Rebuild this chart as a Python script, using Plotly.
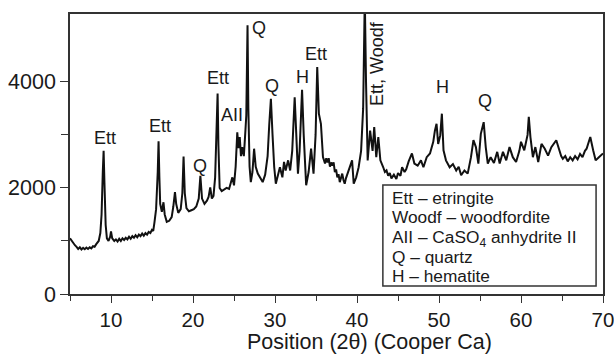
import plotly.graph_objects as go

# ---- data (2theta in degrees, intensity in counts) ----
two_theta = [
    5.0, 5.2, 5.4, 5.6, 5.8, 6.0, 6.2, 6.4, 6.6, 6.8, 7.0, 7.2, 7.4, 7.6, 7.8, 8.0, 8.2, 8.5, 8.7, 8.85,
    9.0, 9.1, 9.2, 9.35, 9.5, 9.7, 9.9, 10.0, 10.15,
    10.4, 10.6, 10.8, 11.0, 11.2, 11.4, 11.6, 11.8, 12.0, 12.2, 12.4, 12.6, 12.8, 13.0, 13.2, 13.4, 13.6,
    13.8, 14.0, 14.2, 14.4, 14.6, 14.8, 15.0, 15.15, 15.3,
    15.5, 15.7, 15.8, 15.9, 16.0, 16.2, 16.4, 16.55, 16.8, 17.1, 17.4, 17.6, 17.8, 17.95, 18.2, 18.5, 18.7,
    18.85, 19.0, 19.2, 19.5, 19.8, 20.1, 20.4, 20.7, 20.9, 21.1, 21.4, 21.7, 21.9, 22.1, 22.3, 22.5, 22.7,
    22.9, 23.0, 23.1, 23.25, 23.5, 23.8, 24.1, 24.4, 24.6, 24.8, 25.0, 25.2, 25.4, 25.55, 25.7, 25.85, 26.0,
    26.2, 26.4, 26.5, 26.6, 26.65, 26.75, 26.9, 27.05, 27.25, 27.45, 27.65, 27.9, 28.2, 28.5, 28.8, 29.1,
    29.3, 29.5, 29.7, 29.9, 30.1, 30.4, 30.6, 30.9, 31.1, 31.3, 31.6, 31.85, 32.1, 32.4, 32.6, 32.8, 33.0,
    33.3, 33.5, 33.8, 34.1, 34.4, 34.7, 34.95, 35.15, 35.35, 35.6, 35.85,
    36.1, 36.25, 36.4, 36.55, 36.7, 36.85, 37.0, 37.15, 37.3, 37.45, 37.6, 37.75, 37.9, 38.05, 38.2, 38.35,
    38.5, 38.65, 38.8, 39.1, 39.4, 39.6, 39.9, 40.2, 40.5, 40.75, 40.95, 41.1, 41.3, 41.6, 41.9,
    42.1, 42.35, 42.6, 42.85, 43.2, 43.4, 43.6, 43.8, 44.0, 44.2, 44.5, 44.8, 45.0, 45.3, 45.5, 45.8, 46.0,
    46.3, 46.7, 47.0, 47.4, 47.8, 48.1,
    48.5, 48.9, 49.3, 49.5, 49.7, 49.9, 50.15, 50.35, 50.55, 50.85, 51.3, 51.7, 52.1, 52.4, 52.7, 53.1, 53.5,
    53.9, 54.2, 54.5, 54.8, 55.1, 55.45, 55.7, 55.95, 56.3, 56.7, 57.1, 57.4, 57.8, 58.2, 58.6, 59.0, 59.4,
    59.8, 60.0, 60.4, 60.8, 60.95, 61.15, 61.45, 61.75, 62.1, 62.5, 62.9, 63.3, 63.7, 64.3, 64.7, 64.9,
    65.1, 65.4, 65.7, 66.0, 66.3, 66.6, 66.9, 67.2, 67.5, 67.8, 68.0, 68.45, 68.8, 69.1, 69.5, 69.8, 70.0,
]
intensity = [
    1050, 1000, 960, 920, 890, 850, 880, 840, 870, 845, 875, 850, 880, 860, 900, 890, 940, 1000, 1150, 1500,
    2300, 2700, 2100, 1300, 1050, 1000, 1080, 1180, 1050,
    1000, 1030, 990, 1040, 1000, 1050, 1020, 1060, 1030, 1080, 1040, 1090, 1060, 1110, 1070, 1120, 1090,
    1140, 1100, 1150, 1120, 1170, 1150, 1210, 1190, 1350,
    1600, 2300, 2880, 2200, 1700, 1550, 1730, 1500, 1360, 1380, 1450, 1650, 1920, 1700, 1530, 1600, 1900,
    2590, 1900, 1620, 1560, 1580, 1600, 1650, 1800, 2230, 1800, 1700, 1760, 1830, 2010, 1800, 1850, 2200,
    3300, 3780, 2800, 2000, 1940, 1970, 2000, 1980, 2100, 2200, 2050, 2400, 3050, 2750, 2960, 2600, 2770,
    2600, 3100, 3370, 4500, 5070, 3500, 2400, 2110, 2300, 2740, 2400, 2270, 2200, 2110, 2250, 2600,
    3200, 3680, 3000, 2400, 2080, 2300, 2390, 2200, 2490, 2330, 2520, 2330, 2700, 3710, 2900, 2270, 2700,
    3850, 3000, 2050, 2300, 2740, 2270, 3000, 4280, 3400, 3210, 2580,
    2460, 2560, 2480, 2560, 2400, 2480, 2420, 2480, 2300, 2350, 2200, 2260, 2110, 2200, 2270, 2150,
    2080, 2180, 2250, 2350, 2520, 2080, 2200, 2390, 2700, 3500, 5600, 4000, 2520, 3080, 2700,
    3150, 2580, 2960, 2520, 2390, 2300, 2330, 2230, 2280, 2180, 2250, 2170, 2280, 2230, 2390, 2300, 2350,
    2500, 2650, 2460, 2420, 2520, 2390,
    2580, 2650, 2870, 3080, 3210, 2830, 2990, 3400, 2710, 2520, 2390, 2450, 2330, 2400, 2240, 2330, 2270,
    2580, 2900, 2770, 2460, 3020, 3240, 2770, 2460, 2580, 2470, 2680, 2460, 2680, 2520, 2770, 2580, 2490,
    2700, 2870, 2710, 3000, 3340, 2960, 2580, 2770, 2490, 2830, 2740, 2610, 2770, 2900, 2680, 2600,
    2550, 2600, 2500, 2580, 2520, 2600, 2540, 2640, 2580, 2700, 2740, 2960, 2710, 2520, 2580, 2630, 2650,
]

# peak labels: text, 2theta, intensity
peak_text = ["Ett", "Ett", "Q", "Ett", "AII", "Q", "Q", "H", "Ett", "H", "Q"]
peak_x = [9.3, 16.0, 20.9, 23.0, 24.8, 28.0, 29.6, 33.3, 35.0, 50.4, 55.6]
peak_y = [2950, 3160, 2420, 4080, 3370, 5010, 3920, 4100, 4520, 3900, 3640]

rot_text = "Ett, Woodf"
rot_x = 42.45
rot_y = 4340

key_lines = [
    "Ett – etringite",
    "Woodf – woodfordite",
    "AII – CaSO<sub>4</sub> anhydrite II",
    "Q – quartz",
    "H – hematite",
]

x_ticks = [10, 20, 30, 40, 50, 60, 70]
x_minor = [5, 15, 25, 35, 45, 55, 65]
y_ticks = [0, 2000, 4000]
y_minor = [1000, 3000]

FONT = "Liberation Sans, Arial, sans-serif"
INK = "#1a1a1a"
AX = "#333333"

fig = go.Figure()
fig.add_trace(go.Scatter(x=two_theta, y=intensity, mode="lines",
                         line=dict(color="#111111", width=2.0), hoverinfo="skip"))

for t, xv, yv in zip(peak_text, peak_x, peak_y):
    fig.add_annotation(x=xv, y=yv, text=t, showarrow=False, xref="x", yref="y",
                       font=dict(family=FONT, size=18, color=INK))

fig.add_annotation(x=rot_x, y=rot_y, text=rot_text, textangle=-90, showarrow=False,
                   xref="x", yref="y", font=dict(family=FONT, size=18, color=INK))

# key box
fig.add_shape(type="rect", xref="paper", yref="paper", x0=0.587, x1=0.987, y0=0.029, y1=0.389,
              line=dict(color=AX, width=1.5), fillcolor="rgba(0,0,0,0)")
key_y = [0.342, 0.274, 0.199, 0.131, 0.064]
for t, yy in zip(key_lines, key_y):
    fig.add_annotation(x=0.601, y=yy, xref="paper", yref="paper", text=t, showarrow=False,
                       xanchor="left", yanchor="middle",
                       font=dict(family=FONT, size=17.3, color=INK))

# axis title (placed as in the reference, slightly right of centre)
fig.add_annotation(x=0.562, y=-0.171, xref="paper", yref="paper", text="Position (2θ) (Cooper Ca)",
                   showarrow=False, xanchor="center", yanchor="middle",
                   font=dict(family=FONT, size=21.5, color=INK))

fig.update_xaxes(range=[5, 70], tickvals=x_ticks, ticks="outside", ticklen=7, tickwidth=1.3,
                 tickcolor=AX, showline=True, linecolor=AX, linewidth=1.5, mirror=True,
                 showgrid=False, zeroline=False, automargin=False, ticklabeloverflow="allow",
                 tickfont=dict(family=FONT, size=20.5, color=INK),
                 minor=dict(tickvals=x_minor, ticks="outside", ticklen=5, tickwidth=1.3, tickcolor=AX,
                            showgrid=False))
fig.update_yaxes(range=[0, 5280], tickvals=y_ticks, ticks="outside", ticklen=8, tickwidth=1.3,
                 tickcolor=AX, showline=True, linecolor=AX, linewidth=1.5, mirror=True,
                 showgrid=False, zeroline=False, automargin=False, ticklabeloverflow="allow",
                 tickfont=dict(family=FONT, size=21.5, color=INK),
                 minor=dict(tickvals=y_minor, ticks="outside", ticklen=7, tickwidth=1.3, tickcolor=AX,
                            showgrid=False))

fig.update_layout(width=614, height=354, margin=dict(l=70, r=11, t=14, b=60, autoexpand=False),
                  paper_bgcolor="white", plot_bgcolor="white", showlegend=False)

fig.write_html("out.html")
